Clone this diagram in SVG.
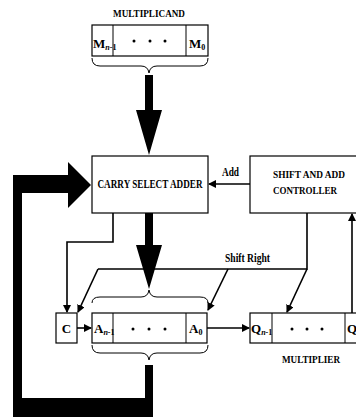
<svg xmlns="http://www.w3.org/2000/svg" width="356" height="417" viewBox="0 0 356 417">
<style>
.box{fill:#fff;stroke:#000;stroke-width:1.2}
.ln{fill:none;stroke:#000;stroke-width:1.6}
.br{fill:none;stroke:#000;stroke-width:1}
.t{font-family:"Liberation Serif",serif;font-weight:bold;fill:#000}
.dot{fill:#000}
</style>
<defs>
<marker id="ah" markerWidth="8" markerHeight="8" refX="7" refY="4" orient="auto" markerUnits="userSpaceOnUse">
<path d="M0,0 L8,4 L0,8 Z" fill="#000"/>
</marker>
</defs>
<rect width="356" height="417" fill="#fff"/>

<g id="connectors">
<polyline class="ln" points="113,213 113,242 67,242 67,312" marker-end="url(#ah)"/>
<line class="ln" x1="250" y1="184" x2="209" y2="184" marker-end="url(#ah)"/>
<polyline class="ln" points="307,213 307,269 98,269"/>
<line class="ln" x1="98" y1="269" x2="78" y2="312" marker-end="url(#ah)"/>
<line class="ln" x1="228" y1="269" x2="208" y2="310" marker-end="url(#ah)"/>
<line class="ln" x1="307" y1="269" x2="287" y2="312" marker-end="url(#ah)"/>
<line class="ln" x1="352" y1="313" x2="352" y2="214" marker-end="url(#ah)"/>
<line class="ln" x1="77" y1="328" x2="91" y2="328" marker-end="url(#ah)"/>
<line class="ln" x1="207" y1="328" x2="249" y2="328" marker-end="url(#ah)"/>
<polygon points="145,75 153,75 153,110 162,110 149,155 136,110 145,110" fill="#000"/>
<polygon points="145,213 153,213 153,245 162,245 149,289 136,245 145,245" fill="#000"/>
<polygon points="145,365 153,365 153,420 13,420 13,175 68,175 68,162 91,185 68,208 68,193 22,193 22,398 145,398" fill="#000"/>
<path class="br" d="M92,58 Q92,66 100,66 L141,66 Q148,66 149,73 Q150,66 157,66 L200,66 Q208,66 208,58"/>
<path class="br" d="M92,303 Q92,297 100,297 L141,297 Q148,297 149,290 Q150,297 157,297 L200,297 Q208,297 208,303"/>
<path class="br" d="M92,345 Q92,353 100,353 L141,353 Q148,353 149,360 Q150,353 157,353 L200,353 Q208,353 208,345"/>
</g>

<g id="multiplicand">
<text class="t" x="149" y="17" font-size="11" text-anchor="middle" textLength="72" lengthAdjust="spacingAndGlyphs">MULTIPLICAND</text>
<rect class="box" x="92" y="25" width="116" height="31"/>
<line class="br" x1="113" y1="25" x2="113" y2="56"/>
<line class="br" x1="186" y1="25" x2="186" y2="56"/>
<text class="t" x="93" y="48" font-size="13">M<tspan font-size="8" dy="2"><tspan font-style="italic">n</tspan>-1</tspan></text>
<text class="t" x="189" y="48" font-size="13">M<tspan font-size="8" dy="2">0</tspan></text>
<circle class="dot" cx="134" cy="41" r="1.5"/>
<circle class="dot" cx="150" cy="41" r="1.5"/>
<circle class="dot" cx="165" cy="41" r="1.5"/>
</g>

<g id="adder">
<rect class="box" x="92" y="156" width="116" height="57"/>
<text class="t" x="150" y="188" font-size="12" text-anchor="middle" textLength="105" lengthAdjust="spacingAndGlyphs">CARRY SELECT ADDER</text>
</g>

<g id="controller">
<rect class="box" x="250" y="156" width="112" height="57"/>
<text class="t" x="273" y="178" font-size="10.5" textLength="72" lengthAdjust="spacingAndGlyphs">SHIFT AND ADD</text>
<text class="t" x="273" y="194" font-size="10.5" textLength="64" lengthAdjust="spacingAndGlyphs">CONTROLLER</text>
</g>

<g id="labels">
<text class="t" x="222" y="176" font-size="12" textLength="17" lengthAdjust="spacingAndGlyphs">Add</text>
<text class="t" x="225" y="262" font-size="12" textLength="45" lengthAdjust="spacingAndGlyphs">Shift Right</text>
</g>

<g id="carry">
<rect class="box" x="56" y="313" width="21" height="30"/>
<text class="t" x="66.5" y="333" font-size="13" text-anchor="middle">C</text>
</g>

<g id="accumulator">
<rect class="box" x="92" y="313" width="115" height="30"/>
<line class="br" x1="113" y1="313" x2="113" y2="343"/>
<line class="br" x1="186" y1="313" x2="186" y2="343"/>
<text class="t" x="94" y="333" font-size="13">A<tspan font-size="8" dy="2"><tspan font-style="italic">n</tspan>-1</tspan></text>
<text class="t" x="189" y="333" font-size="13">A<tspan font-size="8" dy="2">0</tspan></text>
<circle class="dot" cx="133" cy="329" r="1.5"/>
<circle class="dot" cx="149" cy="329" r="1.5"/>
<circle class="dot" cx="165" cy="329" r="1.5"/>
</g>

<g id="multiplier">
<rect class="box" x="250" y="313" width="112" height="30"/>
<line class="br" x1="272" y1="313" x2="272" y2="343"/>
<line class="br" x1="345" y1="313" x2="345" y2="343"/>
<text class="t" x="251" y="333" font-size="13">Q<tspan font-size="8" dy="2"><tspan font-style="italic">n</tspan>-1</tspan></text>
<text class="t" x="347" y="333" font-size="13">Q</text>
<circle class="dot" cx="292" cy="329" r="1.5"/>
<circle class="dot" cx="307" cy="329" r="1.5"/>
<circle class="dot" cx="322" cy="329" r="1.5"/>
<text class="t" x="311" y="363" font-size="11" text-anchor="middle" textLength="58" lengthAdjust="spacingAndGlyphs">MULTIPLIER</text>
</g>
</svg>
